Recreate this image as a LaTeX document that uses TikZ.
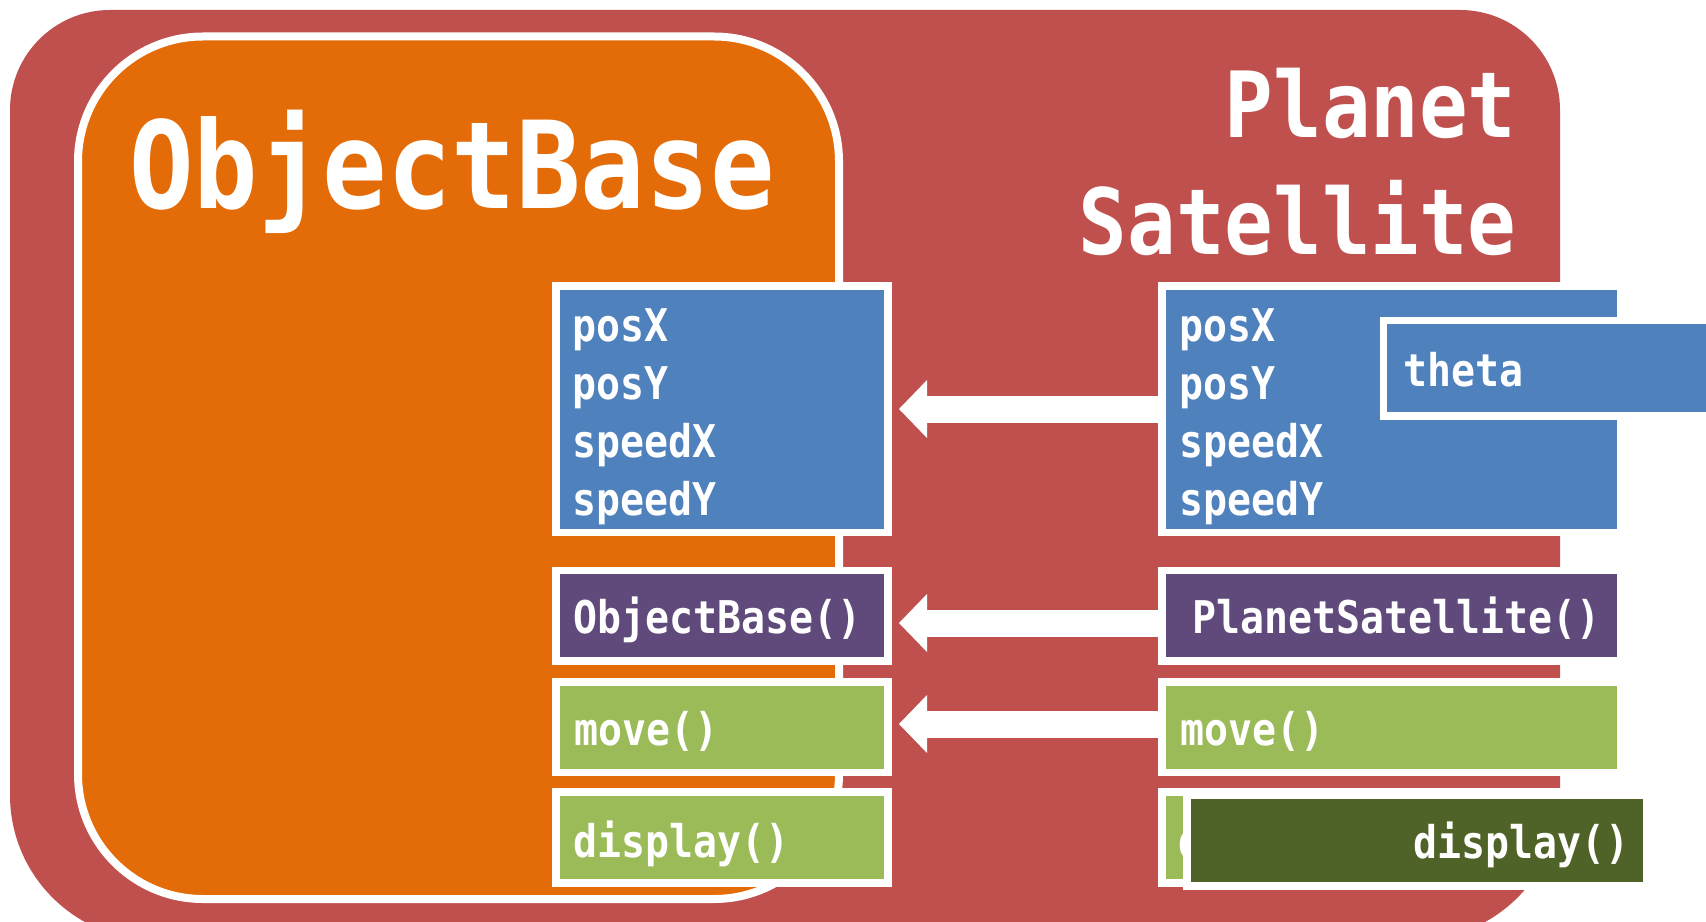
\documentclass[tikz,border=0pt]{standalone}
\usepackage{fontspec}
\usepackage{graphicx}
\usetikzlibrary{arrows.meta,calc}

\newfontfamily\codefam{DejaVu Sans Mono}

\definecolor{slidered}{HTML}{C0504D}
\definecolor{baseorange}{HTML}{E36C09}
\definecolor{fieldblue}{HTML}{4F81BD}
\definecolor{ctorpurple}{HTML}{604A7B}
\definecolor{methodgreen}{HTML}{9BBB59}
\definecolor{overridegreen}{HTML}{4F6228}

% one pixel of the drawing grid
\newlength{\pxl}\setlength{\pxl}{0.02cm}
% slightly taller lettering
\newcommand{\tallx}[1]{\scalebox{1}[1.13]{#1}}

\tikzset{
  panel/.style={draw=white, line width=0.15cm, inner sep=0pt, outer sep=0pt, anchor=north west},
  code/.style={font=\codefam\bfseries\fontsize{22.7}{27}\selectfont, text=white, inner sep=0pt, anchor=base west},
  bigtitle/.style={font=\codefam\bfseries\fontsize{61}{70}\selectfont, text=white, inner sep=0pt},
  midtitle/.style={font=\codefam\bfseries\fontsize{46}{54}\selectfont, text=white, inner sep=0pt, anchor=base east},
  inherit/.style={draw=white, line width=0.54cm, -{Triangle[length=0.56cm, width=1.16cm, line width=0pt]}}
}

\begin{document}
\begin{tikzpicture}[x=0.02cm, y=-0.02cm]
\useasboundingbox (0,0) rectangle (1706,922);
\clip (0,0) rectangle (1706,922);

% derived class background
\fill[slidered] (10,400) [rounded corners=2cm] -- (10,10) -- (1560,10) -- (1560,400)
  [rounded corners=2.9cm] -- (1560,940) -- (10,940) -- (10,400) -- cycle;

% base class container
\node[panel, fill=baseorange, line width=0.16cm, rounded corners=2.5cm,
      minimum width=761*\pxl, minimum height=862.5*\pxl] (objBox) at (78,36.5) {};
\node[bigtitle, anchor=base west] (objTitle) at (129,209) {\tallx{ObjectBase}};

% derived class title
\node[midtitle] (planetTitle) at (1517,138) {\tallx{Planet}};
\node[midtitle] (satTitle) at (1517,255) {\tallx{Satellite}};

% base class members
\node[panel, fill=fieldblue, minimum width=332*\pxl, minimum height=246.5*\pxl] (attrL) at (556,286) {};
\node[code] (pxL) at (572,341) {\tallx{posX}};
\node[code] (pyL) at (572,399) {\tallx{posY}};
\node[code] (sxL) at (572,457) {\tallx{speedX}};
\node[code] (syL) at (572,515) {\tallx{speedY}};

\node[panel, fill=ctorpurple, minimum width=332*\pxl, minimum height=90.5*\pxl] (ctorL) at (556,570.5) {};
\node[code] (ctorLtxt) at (573,633) {\tallx{ObjectBase()}};

\node[panel, fill=methodgreen, minimum width=332*\pxl, minimum height=90.5*\pxl] (moveL) at (556,682) {};
\node[code] (moveLtxt) at (574,745) {\tallx{move()}};

\node[panel, fill=methodgreen, minimum width=332*\pxl, minimum height=91*\pxl] (dispL) at (556,792) {};
\node[code] (dispLtxt) at (573,857) {\tallx{display()}};

% derived class members
\node[panel, fill=fieldblue, minimum width=459*\pxl, minimum height=246.5*\pxl] (attrR) at (1162,286) {};
\node[code] (pxR) at (1179,341) {\tallx{posX}};
\node[code] (pyR) at (1179,399) {\tallx{posY}};
\node[code] (sxR) at (1179,457) {\tallx{speedX}};
\node[code] (syR) at (1179,515) {\tallx{speedY}};

\node[panel, fill=fieldblue, minimum width=344*\pxl, minimum height=95.5*\pxl] (thetaR) at (1383.5,320.5) {};
\node[code] (thetaTxt) at (1403,386) {\tallx{theta}};

\node[panel, fill=ctorpurple, minimum width=459*\pxl, minimum height=90.5*\pxl] (ctorR) at (1162,570.5) {};
\node[code] (ctorRtxt) at (1192,633) {\tallx{PlanetSatellite()}};

\node[panel, fill=methodgreen, minimum width=459*\pxl, minimum height=90.5*\pxl] (moveR) at (1162,682) {};
\node[code] (moveRtxt) at (1180,745) {\tallx{move()}};

\node[panel, fill=methodgreen, minimum width=459*\pxl, minimum height=91*\pxl] (dispR) at (1162,792) {};
\node[code] (dispRtxt) at (1178,857) {\tallx{display()}};

% overriding display()
\node[panel, fill=overridegreen, minimum width=460*\pxl, minimum height=90.5*\pxl] (dispOv) at (1187,795.5) {};
\node[code, anchor=base east] (dispOvTxt) at (1630,858) {\tallx{display()}};

% inheritance arrows
\draw[inherit] (attrR.west |- 0,409) -- ($(attrL.east |- 0,409)+(11,0)$);
\draw[inherit] (ctorR.west |- 0,623) -- ($(ctorL.east |- 0,623)+(11,0)$);
\draw[inherit] (moveR.west |- 0,724) -- ($(moveL.east |- 0,724)+(11,0)$);
\end{tikzpicture}
\end{document}
